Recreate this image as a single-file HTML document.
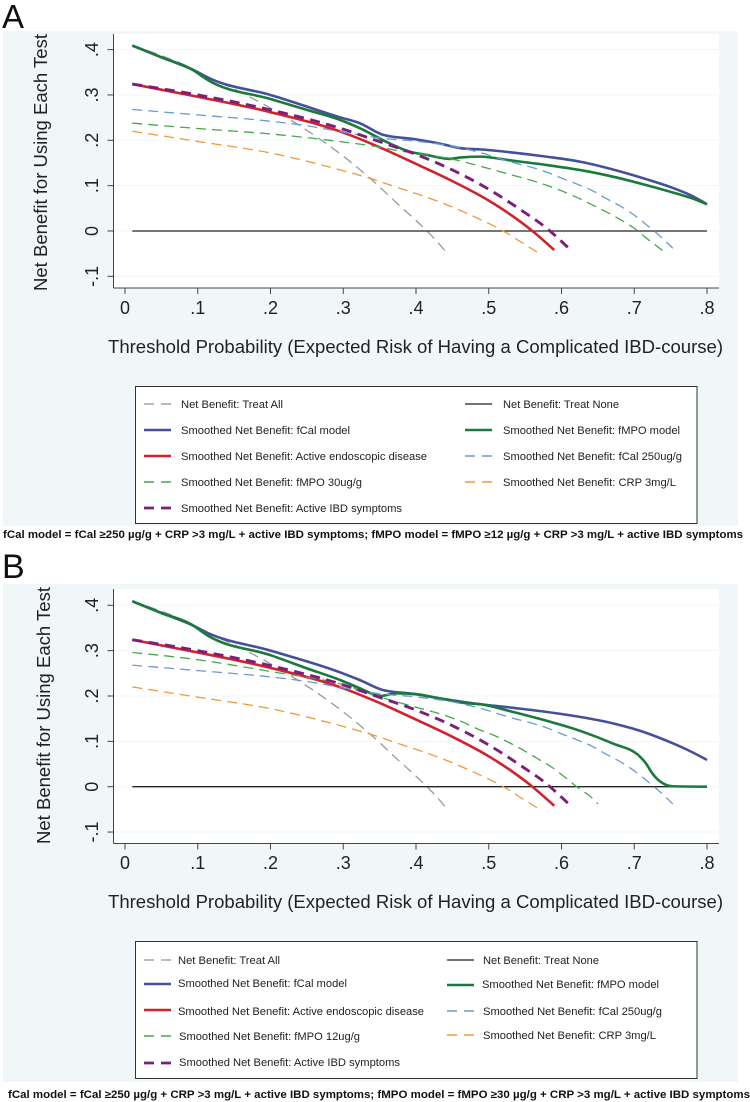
<!DOCTYPE html>
<html lang="en">
<head>
<meta charset="utf-8">
<title>Decision curve analysis panels A and B</title>
<style>
html,body{margin:0;padding:0;background:#fff;}
svg{display:block;font-family:"Liberation Sans",sans-serif;}
</style>
</head>
<body>
<svg id="figure" xmlns="http://www.w3.org/2000/svg" width="750" height="1102" viewBox="0 0 750 1102">
  <rect width="750" height="1102" fill="#fff"/>
  <text x="2" y="28" font-size="33" fill="#111">A</text>
  <text x="2" y="578" font-size="34" fill="#111">B</text>
  <rect x="3" y="31" width="735" height="495" fill="#f1f6f9"/>
  <rect x="3" y="584" width="735" height="498" fill="#f1f6f9"/>
  <rect x="113.5" y="34" width="605.5" height="254" fill="#fff"/>
  <rect x="113.5" y="589" width="605.5" height="254.5" fill="#fff"/>
  <g id="panelA"></g>
  <g id="panelB"></g>

  <text transform="translate(47,291) rotate(-90)" font-size="18.6" fill="#222" textLength="257" lengthAdjust="spacingAndGlyphs">Net Benefit for Using Each Test</text>
  <text x="108" y="353" font-size="18.6" fill="#222" textLength="615" lengthAdjust="spacingAndGlyphs">Threshold Probability (Expected Risk of Having a Complicated IBD-course)</text>
  <text transform="translate(50,844) rotate(-90)" font-size="18.6" fill="#222" textLength="257" lengthAdjust="spacingAndGlyphs">Net Benefit for Using Each Test</text>
  <text x="108" y="908" font-size="18.6" fill="#222" textLength="615" lengthAdjust="spacingAndGlyphs">Threshold Probability (Expected Risk of Having a Complicated IBD-course)</text>

  <g font-size="11.4" fill="#222">
    <rect x="135.5" y="386.5" width="561.5" height="137" fill="#fff" stroke="#333" stroke-width="1"/>
    <g><line x1="144" x2="171" y1="404" y2="404" stroke="#a3a3a3" stroke-width="1.4" stroke-dasharray="10 7"/><text x="181" y="408" textLength="102" lengthAdjust="spacingAndGlyphs">Net Benefit: Treat All</text></g>
    <g><line x1="144" x2="171" y1="430" y2="430" stroke="#44509b" stroke-width="2.6"/><text x="181" y="434" textLength="169" lengthAdjust="spacingAndGlyphs">Smoothed Net Benefit: fCal model</text></g>
    <g><line x1="144" x2="171" y1="456" y2="456" stroke="#d3222e" stroke-width="2.6"/><text x="181" y="460" textLength="246" lengthAdjust="spacingAndGlyphs">Smoothed Net Benefit: Active endoscopic disease</text></g>
    <g><line x1="144" x2="171" y1="482" y2="482" stroke="#45a84a" stroke-width="1.4" stroke-dasharray="10 7"/><text x="181" y="486" textLength="181" lengthAdjust="spacingAndGlyphs">Smoothed Net Benefit: fMPO 30ug/g</text></g>
    <g><line x1="144" x2="171" y1="508" y2="508" stroke="#7b1f7d" stroke-width="2.8" stroke-dasharray="10 7"/><text x="181" y="512" textLength="221" lengthAdjust="spacingAndGlyphs">Smoothed Net Benefit: Active IBD symptoms</text></g>
    <g><line x1="465" x2="492" y1="404" y2="404" stroke="#222" stroke-width="1.3"/><text x="503" y="408" textLength="116" lengthAdjust="spacingAndGlyphs">Net Benefit: Treat None</text></g>
    <g><line x1="465" x2="492" y1="430" y2="430" stroke="#1a7a3c" stroke-width="2.6"/><text x="503" y="434" textLength="177" lengthAdjust="spacingAndGlyphs">Smoothed Net Benefit: fMPO model</text></g>
    <g><line x1="465" x2="492" y1="456" y2="456" stroke="#6a9bd0" stroke-width="1.4" stroke-dasharray="10 7"/><text x="503" y="460" textLength="179" lengthAdjust="spacingAndGlyphs">Smoothed Net Benefit: fCal 250ug/g</text></g>
    <g><line x1="465" x2="492" y1="482" y2="482" stroke="#ee9a3c" stroke-width="1.4" stroke-dasharray="10 7"/><text x="503" y="486" textLength="173" lengthAdjust="spacingAndGlyphs">Smoothed Net Benefit: CRP 3mg/L</text></g>
  </g>

  <g font-size="11.4" fill="#222">
    <rect x="135.5" y="941.5" width="561.5" height="137" fill="#fff" stroke="#333" stroke-width="1"/>
    <g><line x1="144" x2="171" y1="960" y2="960" stroke="#a3a3a3" stroke-width="1.4" stroke-dasharray="10 7"/><text x="178" y="964" textLength="102" lengthAdjust="spacingAndGlyphs">Net Benefit: Treat All</text></g>
    <g><line x1="144" x2="171" y1="984" y2="984" stroke="#44509b" stroke-width="2.6"/><text x="178" y="987" textLength="169" lengthAdjust="spacingAndGlyphs">Smoothed Net Benefit: fCal model</text></g>
    <g><line x1="144" x2="171" y1="1010" y2="1010" stroke="#d3222e" stroke-width="2.6"/><text x="178" y="1015" textLength="246" lengthAdjust="spacingAndGlyphs">Smoothed Net Benefit: Active endoscopic disease</text></g>
    <g><line x1="144" x2="171" y1="1036" y2="1036" stroke="#45a84a" stroke-width="1.4" stroke-dasharray="10 7"/><text x="179" y="1040" textLength="181" lengthAdjust="spacingAndGlyphs">Smoothed Net Benefit: fMPO 12ug/g</text></g>
    <g><line x1="144" x2="171" y1="1063" y2="1063" stroke="#7b1f7d" stroke-width="2.8" stroke-dasharray="10 7"/><text x="179" y="1066" textLength="221" lengthAdjust="spacingAndGlyphs">Smoothed Net Benefit: Active IBD symptoms</text></g>
    <g><line x1="447" x2="474" y1="960" y2="960" stroke="#222" stroke-width="1.3"/><text x="483" y="964" textLength="116" lengthAdjust="spacingAndGlyphs">Net Benefit: Treat None</text></g>
    <g><line x1="447" x2="474" y1="985" y2="985" stroke="#1a7a3c" stroke-width="2.6"/><text x="482" y="988" textLength="177" lengthAdjust="spacingAndGlyphs">Smoothed Net Benefit: fMPO model</text></g>
    <g><line x1="447" x2="474" y1="1011" y2="1011" stroke="#6a9bd0" stroke-width="1.4" stroke-dasharray="10 7"/><text x="483" y="1015" textLength="179" lengthAdjust="spacingAndGlyphs">Smoothed Net Benefit: fCal 250ug/g</text></g>
    <g><line x1="447" x2="474" y1="1035" y2="1035" stroke="#ee9a3c" stroke-width="1.4" stroke-dasharray="10 7"/><text x="483" y="1039" textLength="173" lengthAdjust="spacingAndGlyphs">Smoothed Net Benefit: CRP 3mg/L</text></g>
  </g>

  <text x="3" y="538" font-size="10.6" font-weight="bold" fill="#111" textLength="740" lengthAdjust="spacingAndGlyphs">fCal model = fCal ≥250 µg/g + CRP &gt;3 mg/L + active IBD symptoms; fMPO model = fMPO ≥12 µg/g + CRP &gt;3 mg/L + active IBD symptoms</text>
  <text x="8" y="1098" font-size="10.6" font-weight="bold" fill="#111" textLength="742" lengthAdjust="spacingAndGlyphs">fCal model = fCal ≥250 µg/g + CRP &gt;3 mg/L + active IBD symptoms; fMPO model = fMPO ≥30 µg/g + CRP &gt;3 mg/L + active IBD symptoms</text>
</svg>

<script>
// Axis ticks
const xTickValues = [0, 0.1, 0.2, 0.3, 0.4, 0.5, 0.6, 0.7, 0.8];
const xTickLabels = ["0", ".1", ".2", ".3", ".4", ".5", ".6", ".7", ".8"];
const yTickValues = [-0.1, 0, 0.1, 0.2, 0.3, 0.4];
const yTickLabels = ["-.1", "0", ".1", ".2", ".3", ".4"];

// Shared series
const treatAllX = [0.01, 0.09, 0.12, 0.15, 0.2, 0.25, 0.302, 0.337, 0.374, 0.41, 0.426, 0.44];
const treatAllY = [0.409, 0.36, 0.335, 0.313, 0.271, 0.222, 0.1625, 0.116, 0.061, 0.008, -0.018, -0.044];
const treatNoneX = [0.01, 0.8];
const treatNoneY = [0, 0];
const endoX = [0.01, 0.1, 0.2, 0.3, 0.35, 0.4, 0.45, 0.5, 0.53, 0.56, 0.59];
const endoY = [0.324, 0.296, 0.262, 0.217, 0.1846, 0.148, 0.11, 0.067, 0.036, 0, -0.042];
const symptomsX = [0.01, 0.1, 0.2, 0.296, 0.35, 0.4, 0.45, 0.5, 0.55, 0.575, 0.61];
const symptomsY = [0.324, 0.3, 0.267, 0.2265, 0.197, 0.169, 0.1346, 0.092, 0.04, 0.012, -0.038];
const fcal250X = [0.01, 0.1, 0.2, 0.25, 0.3, 0.35, 0.4, 0.45, 0.488, 0.533, 0.56, 0.581, 0.601, 0.622, 0.643, 0.661, 0.682, 0.7, 0.72, 0.731, 0.753];
const fcal250Y = [0.268, 0.256, 0.242, 0.232, 0.218, 0.205, 0.198, 0.187, 0.173, 0.151, 0.14, 0.129, 0.116, 0.103, 0.0885, 0.072, 0.054, 0.035, 0.0096, -0.005, -0.038];
const crpX = [0.01, 0.1, 0.2, 0.296, 0.337, 0.378, 0.419, 0.46, 0.488, 0.52, 0.543, 0.567];
const crpY = [0.22, 0.1975, 0.172, 0.1346, 0.116, 0.094, 0.072, 0.046, 0.0257, 0, -0.023, -0.047];

// Panel A series
const aFcalModelX = [0.01, 0.05, 0.09, 0.12, 0.2, 0.2955, 0.323, 0.355, 0.4, 0.432, 0.464, 0.488, 0.533, 0.579, 0.625, 0.67, 0.716, 0.753, 0.776, 0.8];
const aFcalModelY = [0.409, 0.383, 0.358, 0.334, 0.3, 0.2507, 0.2375, 0.212, 0.202, 0.193, 0.182, 0.18, 0.173, 0.164, 0.153, 0.136, 0.1145, 0.095, 0.08, 0.059];
const aFmpoModelX = [0.01, 0.05, 0.09, 0.117, 0.2, 0.25, 0.2955, 0.323, 0.364, 0.391, 0.414, 0.446, 0.46, 0.487, 0.533, 0.579, 0.625, 0.67, 0.716, 0.753, 0.776, 0.8];
const aFmpoModelY = [0.409, 0.383, 0.358, 0.33, 0.291, 0.267, 0.245, 0.2265, 0.193, 0.175, 0.168, 0.159, 0.162, 0.164, 0.155, 0.1456, 0.1346, 0.12, 0.1015, 0.085, 0.074, 0.059];
const aFmpoCutX = [0.01, 0.1, 0.2, 0.296, 0.346, 0.369, 0.451, 0.488, 0.515, 0.54, 0.56, 0.581, 0.601, 0.622, 0.643, 0.661, 0.679, 0.7, 0.72, 0.739];
const aFmpoCutY = [0.238, 0.226, 0.214, 0.197, 0.186, 0.179, 0.158, 0.143, 0.131, 0.12, 0.111, 0.1, 0.088, 0.0735, 0.057, 0.0425, 0.027, 0.006, -0.02, -0.043];

// Panel B series
const bFcalModelX = [0.01, 0.05, 0.09, 0.115, 0.2, 0.296, 0.323, 0.355, 0.4, 0.432, 0.478, 0.533, 0.579, 0.625, 0.67, 0.716, 0.753, 0.776, 0.8];
const bFcalModelY = [0.409, 0.383, 0.358, 0.338, 0.3, 0.252, 0.235, 0.213, 0.204, 0.195, 0.184, 0.174, 0.165, 0.154, 0.14, 0.119, 0.0956, 0.079, 0.059];
const bFmpoModelX = [0.01, 0.05, 0.09, 0.115, 0.2, 0.25, 0.296, 0.323, 0.351, 0.374, 0.4, 0.432, 0.469, 0.488, 0.533, 0.579, 0.625, 0.67, 0.707, 0.716, 0.725, 0.736, 0.753, 0.8];
const bFmpoModelY = [0.409, 0.383, 0.359, 0.332, 0.29, 0.261, 0.235, 0.217, 0.2, 0.206, 0.204, 0.195, 0.184, 0.182, 0.165, 0.1456, 0.1235, 0.0956, 0.0676, 0.0515, 0.029, 0.011, 0.001, 0];
const bFmpoCutX = [0.01, 0.1, 0.2, 0.3, 0.35, 0.398, 0.428, 0.465, 0.488, 0.506, 0.527, 0.547, 0.568, 0.587, 0.605, 0.624, 0.64, 0.65];
const bFmpoCutY = [0.296, 0.28, 0.254, 0.225, 0.198, 0.176, 0.163, 0.142, 0.125, 0.114, 0.098, 0.081, 0.061, 0.0426, 0.0206, -0.004, -0.022, -0.038];

const SVG_NS = "http://www.w3.org/2000/svg";

function add(parent, tag, attrs) {
  const el = document.createElementNS(SVG_NS, tag);
  for (const k in attrs) el.setAttribute(k, attrs[k]);
  parent.appendChild(el);
  return el;
}

function curvePath(xs, ys, sx, sy) {
  const px = xs.map(sx);
  const py = ys.map(sy);
  const n = px.length;
  const s = [];
  for (let i = 0; i < n - 1; i++) s.push((py[i + 1] - py[i]) / (px[i + 1] - px[i]));
  const m = new Array(n).fill(s[0]);
  for (let i = 1; i < n - 1; i++) {
    const h0 = px[i] - px[i - 1], h1 = px[i + 1] - px[i];
    const p = (s[i - 1] * h1 + s[i] * h0) / (h0 + h1);
    m[i] = (Math.sign(s[i - 1]) + Math.sign(s[i])) * Math.min(Math.abs(s[i - 1]), Math.abs(s[i]), 0.5 * Math.abs(p));
  }
  if (n > 2) {
    m[0] = (3 * s[0] - m[1]) / 2;
    m[n - 1] = (3 * s[n - 2] - m[n - 2]) / 2;
  }
  let d = "M" + px[0].toFixed(2) + " " + py[0].toFixed(2);
  for (let i = 0; i < n - 1; i++) {
    const h = (px[i + 1] - px[i]) / 3;
    d += "C" + (px[i] + h).toFixed(2) + " " + (py[i] + h * m[i]).toFixed(2) + " " +
      (px[i + 1] - h).toFixed(2) + " " + (py[i + 1] - h * m[i + 1]).toFixed(2) + " " +
      px[i + 1].toFixed(2) + " " + py[i + 1].toFixed(2);
  }
  return d;
}

function drawPanel(group, zeroY, bottomY, topY, tickBaseline, series) {
  const sx = function (v) { return 125 + v * 727.5; };
  const sy = function (v) { return zeroY - v * 453.5; };

  yTickValues.forEach(function (v, i) {
    const grid = add(group, "line", { x1: 113.5, x2: 719, y1: sy(v), y2: sy(v), stroke: "#f1f6f9", "stroke-width": 1 });
    
    
    const tick = add(group, "line", { x1: 107.5, x2: 113.5, y1: sy(v), y2: sy(v), stroke: "#444", "stroke-width": 1 });
    
    
    const label = add(group, "text", { transform: "translate(98," + sy(v) + ") rotate(-90)", "text-anchor": "middle", "font-size": 18, fill: "#222" });
    
    
    label.textContent = yTickLabels[i];
  });

  xTickValues.forEach(function (v, i) {
    const tick = add(group, "line", { x1: sx(v), x2: sx(v), y1: bottomY, y2: bottomY + 6, stroke: "#444", "stroke-width": 1 });
    
    
    const label = add(group, "text", { x: sx(v), y: tickBaseline, "text-anchor": "middle", "font-size": 18, fill: "#222" });
    
    
    label.textContent = xTickLabels[i];
  });

  const yAxis = add(group, "line", { x1: 113.5, x2: 113.5, y1: topY, y2: bottomY, stroke: "#444", "stroke-width": 1 });
  
  
  const xAxis = add(group, "line", { x1: 113.5, x2: 719, y1: bottomY, y2: bottomY, stroke: "#444", "stroke-width": 1 });
  
  

  series.forEach(function (s) {
    const path = add(group, "path", {
      d: curvePath(s.x, s.y, sx, sy), fill: "none", stroke: s.color,
      "stroke-width": s.width, "stroke-dasharray": s.dash || "none", "stroke-linejoin": "round"
    });
    
    
  });
}

const thin = 1.3;
const thick = 2.6;
const dashThin = "10 6";
const dashThick = "10 6.5";

drawPanel(document.getElementById("panelA"), 231, 288, 34, 314, [
  { name: "treat-all-line", x: treatAllX, y: treatAllY, color: "#9a9a9a", width: thin, dash: dashThin },
  { name: "treat-none-line", x: treatNoneX, y: treatNoneY, color: "#222", width: 1.3 },
  { name: "fcal-model-line", x: aFcalModelX, y: aFcalModelY, color: "#44509b", width: thick },
  { name: "fmpo-model-line", x: aFmpoModelX, y: aFmpoModelY, color: "#1a7a3c", width: thick },
  { name: "active-endoscopic-disease-line", x: endoX, y: endoY, color: "#d3222e", width: thick },
  { name: "fcal-250-line", x: fcal250X, y: fcal250Y, color: "#6a9bd0", width: thin, dash: dashThin },
  { name: "fmpo-30-line", x: aFmpoCutX, y: aFmpoCutY, color: "#45a84a", width: thin, dash: dashThin },
  { name: "crp-3-line", x: crpX, y: crpY, color: "#ee9a3c", width: thin, dash: dashThin },
  { name: "active-ibd-symptoms-line", x: symptomsX, y: symptomsY, color: "#7b1f7d", width: 2.9, dash: dashThick }
]);

drawPanel(document.getElementById("panelB"), 786.7, 843.5, 589, 869, [
  { name: "treat-all-line", x: treatAllX, y: treatAllY, color: "#9a9a9a", width: thin, dash: dashThin },
  { name: "treat-none-line", x: treatNoneX, y: treatNoneY, color: "#222", width: 1.3 },
  { name: "fcal-model-line", x: bFcalModelX, y: bFcalModelY, color: "#44509b", width: thick },
  { name: "fmpo-model-line", x: bFmpoModelX, y: bFmpoModelY, color: "#1a7a3c", width: thick },
  { name: "active-endoscopic-disease-line", x: endoX, y: endoY, color: "#d3222e", width: thick },
  { name: "fcal-250-line", x: fcal250X, y: fcal250Y, color: "#6a9bd0", width: thin, dash: dashThin },
  { name: "fmpo-12-line", x: bFmpoCutX, y: bFmpoCutY, color: "#45a84a", width: thin, dash: dashThin },
  { name: "crp-3-line", x: crpX, y: crpY, color: "#ee9a3c", width: thin, dash: dashThin },
  { name: "active-ibd-symptoms-line", x: symptomsX, y: symptomsY, color: "#7b1f7d", width: 2.9, dash: dashThick }
]);
</script>
</body>
</html>
